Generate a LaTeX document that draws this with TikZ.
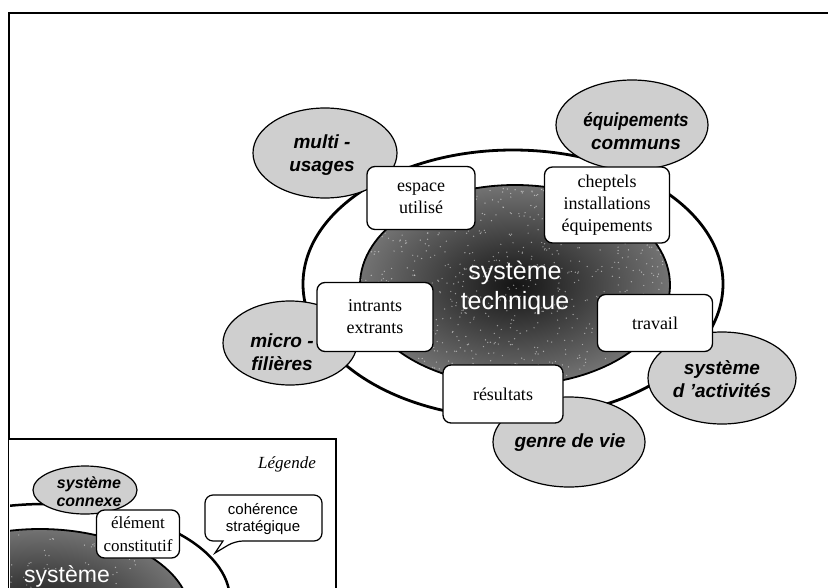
\documentclass[tikz,border=0pt]{standalone}
\usepackage{fontspec}
\setmainfont{Liberation Serif}
\setsansfont{Liberation Sans}
\usetikzlibrary{shapes.geometric}
\begin{document}
\begin{tikzpicture}[x=1pt,y=-1pt,
  frameline/.style={line width=2.6pt},
  boxnode/.style={draw, line width=1.3pt, rounded corners=8pt, fill=white, inner sep=0pt, align=center, font=\fontsize{18}{22}\selectfont},
  grayfill/.style={fill=black!19, draw=black, line width=1.2pt},
  graytext/.style={font=\sffamily\bfseries\itshape\fontsize{19}{23}\selectfont, align=center, inner sep=0pt},
  darkshade/.style={inner color=black!92, outer color=black!55},
  systext/.style={font=\sffamily\fontsize{25}{30}\selectfont, text=white, align=center, inner sep=0pt}
]
\useasboundingbox (0,0) rectangle (828,587);
\fill[white] (0,0) rectangle (828,587);
% frame
\draw[frameline] (830,13) -- (9,13) -- (9,590);

% outer system ellipse
\draw[line width=2.8pt, fill=white] (513,284) ellipse [x radius=210pt, y radius=134pt];
% inner technical system
\begin{scope}
  \clip (515,285) ellipse [x radius=155pt, y radius=100pt];
  \shade[darkshade] (515,285) ellipse [x radius=155pt, y radius=100pt];
  \pgfmathsetseed{12}
  \foreach \i in {1,...,900}{
    \fill[white, opacity=0.5] ({515+155*rand},{285+100*rand}) circle (0.7pt);
  }
\end{scope}
\draw[line width=1.8pt] (515,285) ellipse [x radius=155pt, y radius=100pt];
\node[systext] (tech) at (515,288) {système\\technique};

% connected systems
\path[grayfill] (325,153) ellipse [x radius=72pt, y radius=45pt];
\node[graytext] (multi) at (322,155) {multi -\\usages};
\path[grayfill] (632,125) ellipse [x radius=76pt, y radius=45pt];
\node[graytext] (equip) at (636,131) {\scalebox{0.9}[1]{équipements}\\communs};
\path[grayfill] (290,343) ellipse [x radius=67pt, y radius=42pt];
\node[graytext] (micro) at (282,352) {micro -\\filières};
\path[grayfill] (722,378) ellipse [x radius=74pt, y radius=46pt];
\node[graytext] (activ) at (722,379) {système\\d 'activités};
\path[grayfill] (569,442) ellipse [x radius=76pt, y radius=45pt];
\node[graytext] (genre) at (570,443) {genre de vie};

% elements
\node[boxnode, minimum width=108pt, minimum height=63pt] (espace) at (421,198) {espace\\utilisé};
\node[boxnode, minimum width=125pt, minimum height=76pt] (cheptels) at (607,205) {cheptels\\installations\\équipements};
\node[boxnode, minimum width=116pt, minimum height=69pt] (intrants) at (375,317) {intrants\\extrants};
\node[boxnode, minimum width=115pt, minimum height=57pt] (travail) at (655,323) {travail};
\node[boxnode, minimum width=120pt, minimum height=58pt] (resultats) at (503,394) {résultats};

% legend
\fill[white] (9,439) rectangle (336,590);
\draw[line width=1.3pt] (9,439) -- (336,439) -- (336,590);
\begin{scope}
  \clip (10,440) rectangle (335,587);
  \draw[line width=2.5pt, fill=white] (45,600) ellipse [x radius=185pt, y radius=96pt];
  \begin{scope}
    \clip (40,615) ellipse [x radius=150pt, y radius=86pt];
    \shade[darkshade] (40,615) ellipse [x radius=150pt, y radius=86pt];
    \foreach \i in {1,...,300}{
      \fill[white, opacity=0.5] ({40+150*rand},{615+86*rand}) circle (0.7pt);
    }
  \end{scope}
  \draw[line width=1.8pt] (40,615) ellipse [x radius=150pt, y radius=86pt];
  \node[font=\sffamily\fontsize{23}{28}\selectfont, text=white, anchor=base, inner sep=0pt] (lsys) at (67,582) {système};
  \path[grayfill] (85,490) ellipse [x radius=52pt, y radius=24pt];
  \node[graytext, font=\sffamily\bfseries\itshape\fontsize{16}{18}\selectfont] (connexe) at (89,492) {système\\connexe};
  \node[boxnode, minimum width=83pt, minimum height=48pt, font=\fontsize{17}{23}\selectfont] (elem) at (138,534) {élément\\constitutif};
  \draw[line width=1.2pt, fill=white, rounded corners=8pt] (263,495) -- (322,495) -- (322,541) -- (235,541) [sharp corners] -- (215,553) -- (223,541) [rounded corners=8pt] -- (205,541) -- (205,495) -- cycle;
  \node[font=\sffamily\fontsize{15}{17}\selectfont, align=center, inner sep=0pt] (coh) at (263,519) {cohérence\\stratégique};
  \node[font=\itshape\fontsize{17}{20}\selectfont, inner sep=0pt] (leg) at (287,464) {Légende};
\end{scope}
\end{tikzpicture}
\end{document}
